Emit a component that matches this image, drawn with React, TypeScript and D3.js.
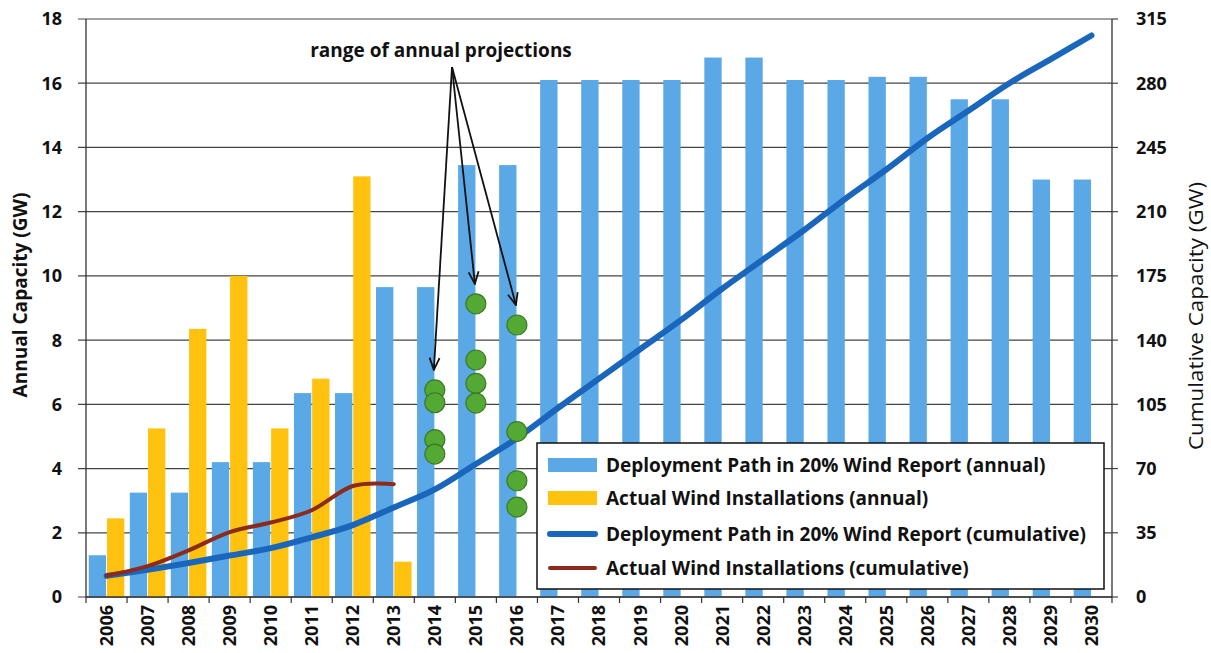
import React from "react";
import * as d3 from "d3";

const years = ["2006","2007","2008","2009","2010","2011","2012","2013","2014","2015","2016","2017","2018","2019","2020","2021","2022","2023","2024","2025","2026","2027","2028","2029","2030"];
const deployAnnual = [1.3,3.25,3.25,4.2,4.2,6.35,6.35,9.65,9.65,13.45,13.45,16.1,16.1,16.1,16.1,16.8,16.8,16.1,16.1,16.2,16.2,15.5,15.5,13.0,13.0];
const actualYears = ["2006","2007","2008","2009","2010","2011","2012","2013"];
const actualAnnual = [2.45,5.25,8.35,10.0,5.25,6.8,13.1,1.1];
const deployCumulative = [11.5,14.8,18.5,22.6,26.6,32.5,39.2,48.8,58.6,72.5,86.5,103,119,135,151,168,184,200,217,233,250,265,280,293,306];
const actualCumulative = [11.6,16.8,25.4,35.4,40.6,47.3,60.5,61.5];
const projYears = ["2014","2014","2014","2014","2015","2015","2015","2015","2016","2016","2016","2016"];
const projValues = [6.45,6.05,4.9,4.45,9.13,7.38,6.65,6.04,8.47,5.15,3.62,2.8];
const arrowYears = ["2014","2015","2016"];
const leftTicks = [0,2,4,6,8,10,12,14,16,18];
const rightTicks = [0,35,70,105,140,175,210,245,280,315];
const legendLabels = [
  "Deployment Path in 20% Wind Report (annual)",
  "Actual Wind Installations (annual)",
  "Deployment Path in 20% Wind Report (cumulative)",
  "Actual Wind Installations (cumulative)",
];

const BLUE_BAR = "#5aa9e6";
const YELLOW = "#ffc20e";
const BLUE_LINE = "#1a66bd";
const RED_LINE = "#8c2a1c";
const GREEN = "#54a834";
const FONT = "'Open Sans', Lato, sans-serif";

export default function App() {
  const left = 86, right = 1112, top = 19, bottom = 597;
  const x = d3.scaleBand<string>().domain(years).range([left, right]).padding(0);
  const sub = d3.scaleBand<string>().domain(["deploy", "actual"]).range([0, x.bandwidth()]).paddingInner(0.05).paddingOuter(0.15);
  const yL = d3.scaleLinear().domain([0, 18]).range([bottom, top]);
  const yR = d3.scaleLinear().domain([0, 315]).range([bottom, top]);
  const cx = (yr: string) => (x(yr) as number) + x.bandwidth() / 2;

  const line = d3.line<[string, number]>()
    .x((d) => cx(d[0]))
    .y((d) => yR(d[1]))
    .curve(d3.curveCatmullRom.alpha(0));

  const deployPath = line(years.map((y, i) => [y, deployCumulative[i]] as [string, number])) || "";
  const actualPath = line(actualYears.map((y, i) => [y, actualCumulative[i]] as [string, number])) || "";

  const arrowOrigin = [452, 67];
  const arrowTips = arrowYears.map((yr) => {
    const vals = projValues.filter((_, i) => projYears[i] === yr);
    const mx = d3.max(vals) as number;
    return [cx(yr) - 1, yL(mx) - 20];
  });

  const legX = 537, legY = 443, legW = 567, legH = 146;
  const rowYs = [465, 498, 534, 568];

  return (
    <svg width={1211} height={653} style={{ position: "absolute", left: 0, top: 0, background: "#fff" }} fontFamily={FONT}>
      <rect x={0} y={0} width={1211} height={653} fill="#fff" />
      {/* gridlines */}
      {leftTicks.map((t) => (
        <line key={"g" + t} x1={left - 8} x2={right} y1={yL(t)} y2={yL(t)} stroke="#444" strokeWidth={1.2} />
      ))}
      {rightTicks.map((t) => (
        <line key={"rt" + t} x1={right} x2={right + 6} y1={yR(t)} y2={yR(t)} stroke="#444" strokeWidth={1.2} />
      ))}
      {/* bars */}
      {years.map((yr, i) => (
        <rect key={"b" + yr} x={(x(yr) as number) + (sub("deploy") as number)} width={sub.bandwidth()}
          y={yL(deployAnnual[i])} height={bottom - yL(deployAnnual[i])} fill={BLUE_BAR} />
      ))}
      {actualYears.map((yr, i) => (
        <rect key={"a" + yr} x={(x(yr) as number) + (sub("actual") as number)} width={sub.bandwidth()}
          y={yL(actualAnnual[i])} height={bottom - yL(actualAnnual[i])} fill={YELLOW} />
      ))}
      {/* axes */}
      <line x1={left} x2={left} y1={top} y2={bottom} stroke="#333" strokeWidth={1.3} />
      <line x1={right} x2={right} y1={top} y2={bottom} stroke="#333" strokeWidth={1.3} />
      <line x1={left} x2={right} y1={bottom} y2={bottom} stroke="#333" strokeWidth={1.3} />
      {years.concat(["end"]).map((yr, i) => {
        const xx = left + i * x.bandwidth();
        return <line key={"xt" + i} x1={xx} x2={xx} y1={bottom} y2={bottom + 6} stroke="#333" strokeWidth={1.2} />;
      })}
      {/* lines */}
      <path d={deployPath} fill="none" stroke={BLUE_LINE} strokeWidth={6} strokeLinecap="round" />
      <path d={actualPath} fill="none" stroke={RED_LINE} strokeWidth={4} strokeLinecap="round" />
      {/* projection dots */}
      {projYears.map((yr, i) => (
        <circle key={"p" + i} cx={cx(yr)} cy={yL(projValues[i])} r={10} fill={GREEN} stroke="#3a7a22" strokeWidth={1.2} />
      ))}
      {/* annotation */}
      <text x={441} y={57} textAnchor="middle" fontSize={19} fontWeight={700} fill="#111">range of annual projections</text>
      <defs>
        <marker id="arr" viewBox="0 0 14 12" refX={13} refY={6} markerWidth={14} markerHeight={12} markerUnits="userSpaceOnUse" orient="auto">
          <path d="M1,1 L13,6 L1,11" fill="none" stroke="#111" strokeWidth={1.8} />
        </marker>
      </defs>
      {arrowTips.map((p, i) => (
        <line key={"ar" + i} x1={arrowOrigin[0]} y1={arrowOrigin[1]} x2={p[0]} y2={p[1]} stroke="#111" strokeWidth={1.8} markerEnd="url(#arr)" />
      ))}
      {/* tick labels */}
      {leftTicks.map((t) => (
        <text key={"lt" + t} x={62} y={yL(t)} dy="0.36em" textAnchor="end" fontSize={18} fontWeight={700} fill="#111">{t}</text>
      ))}
      {rightTicks.map((t) => (
        <text key={"rl" + t} x={1136} y={yR(t)} dy="0.36em" textAnchor="start" fontSize={18} fontWeight={700} fill="#111">{t}</text>
      ))}
      {years.map((yr) => (
        <text key={"xl" + yr} transform={`translate(${cx(yr)},${bottom + 8}) rotate(-90)`} textAnchor="end" dy="0.36em" fontSize={18} fontWeight={700} fill="#111">{yr}</text>
      ))}
      {/* axis titles */}
      <text transform={`translate(20,295) rotate(-90)`} textAnchor="middle" dy="0.36em" fontSize={19} fontWeight={700} fill="#111" textLength={205} lengthAdjust="spacingAndGlyphs">Annual Capacity (GW)</text>
      <text transform={`translate(1196,316) rotate(-90)`} textAnchor="middle" dy="0.36em" fontSize={20} fontWeight={400} fill="#111" textLength={268} lengthAdjust="spacingAndGlyphs">Cumulative Capacity (GW)</text>
      {/* legend */}
      <rect x={legX} y={legY} width={legW} height={legH} fill="#fff" stroke="#111" strokeWidth={1.5} />
      <rect x={548} y={rowYs[0] - 7} width={49} height={14} fill={BLUE_BAR} />
      <rect x={548} y={rowYs[1] - 7} width={49} height={14} fill={YELLOW} />
      <line x1={550} x2={595} y1={rowYs[2]} y2={rowYs[2]} stroke={BLUE_LINE} strokeWidth={6} strokeLinecap="round" />
      <line x1={550} x2={595} y1={rowYs[3]} y2={rowYs[3]} stroke={RED_LINE} strokeWidth={4} strokeLinecap="round" />
      {legendLabels.map((l, i) => (
        <text key={"lg" + i} x={606} y={rowYs[i]} dy="0.36em" fontSize={19} fontWeight={700} fill="#111">{l}</text>
      ))}
    </svg>
  );
}
